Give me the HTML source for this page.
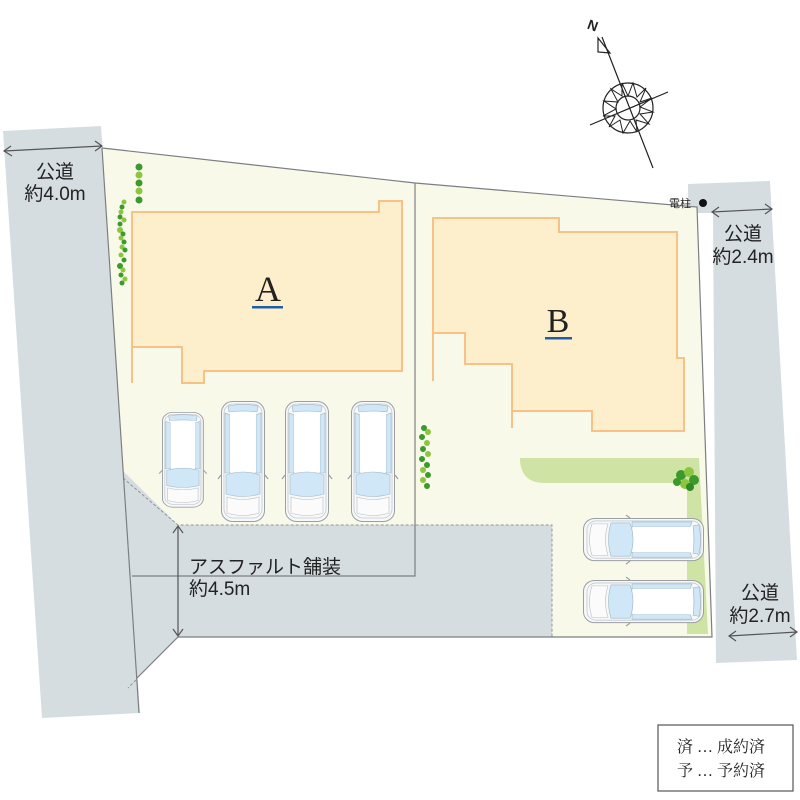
<!DOCTYPE html>
<html><head><meta charset="utf-8"><style>
html,body{margin:0;padding:0;background:#fff;}
svg{display:block;}
.t{font-family:"Liberation Sans","Noto Sans CJK JP",sans-serif;fill:#222;}
.s{font-family:"Liberation Serif","Noto Serif CJK SC",serif;fill:#222;}
</style></head><body>
<svg width="800" height="800" viewBox="0 0 800 800" xmlns="http://www.w3.org/2000/svg">
<defs>
<g id="car">
  <rect x="0.5" y="0.5" width="43" height="120" rx="11" fill="#f7f8f9" stroke="#9a9fa4" stroke-width="1"/>
  <rect x="3" y="3" width="38" height="114" rx="9" fill="none" stroke="#c4c8cc" stroke-width="0.8"/>
  <path d="M4,12 L4,72 L9,72 L9,14 Z" fill="#cfe7f6" stroke="#9fb4c4" stroke-width="0.6"/>
  <path d="M40,12 L40,72 L35,72 L35,14 Z" fill="#cfe7f6" stroke="#9fb4c4" stroke-width="0.6"/>
  <path d="M7,5 Q22,2 37,5 L36,11 Q22,9 8,11 Z" fill="#cfe7f6" stroke="#9fb4c4" stroke-width="0.6"/>
  <rect x="9" y="11" width="26" height="60" fill="#fff"/>
  <path d="M5,74 Q22,68 39,74 L39,93 Q22,98 5,93 Z" fill="#cfe7f6" stroke="#9fb4c4" stroke-width="0.6"/>
  <path d="M6,96 Q22,101 38,96 L38,112 Q22,117 6,112 Z" fill="#fbfbfb" stroke="#b9bdc1" stroke-width="0.6"/>
  <path d="M0,74 L-3,78 M44,74 L47,78" stroke="#9a9fa4" stroke-width="1.2"/>
</g>
</defs>

<polygon points="3,131 101,126 140,713 42,718" fill="#d6dde1"/>
<polygon points="688,184 770,181 797,660 716,663 713,213 688,213" fill="#d6dde1"/>

<polygon points="102,148 415,183 697,207 712,637 178,637 136,680 102,148" fill="#f9f9ea"/>
<polygon points="122,470 178,525 552,525 552,637 178,637 136,680" fill="#d6dde1"/>
<polyline points="123,478 178,525 552,525 552,637" fill="none" stroke="#8f969a" stroke-width="1" stroke-dasharray="3,2"/>
<line x1="136" y1="680" x2="128" y2="688" stroke="#8f969a" stroke-width="1" stroke-dasharray="3,2"/>

<polyline points="102,148 415,183 697,207 712,637 178,637 137,678" fill="none" stroke="#7b7f82" stroke-width="1.2"/>
<line x1="102" y1="148" x2="139" y2="713" stroke="#7b7f82" stroke-width="1.2"/>
<polyline points="415,183 415,576 132,576" fill="none" stroke="#7b7f82" stroke-width="1.2"/>

<path d="M520,458 L699,458 L708,634 L687,634 L687,483 L545,483 Q520,483 520,458 Z" fill="#cfe3a4"/>

<polygon points="132,212 379,212 379,201 402,201 402,371 204,371 204,383 182,383 182,347 132,347" fill="#fdefcc"/>
<path d="M132,383 L132,212 L379,212 L379,201 L402,201 L402,371 L204,371 L204,383 L182,383 L182,347 L132,347" fill="none" stroke="#f8c286" stroke-width="2"/>
<polygon points="433,218 559,218 559,232 677,232 677,358 684,358 684,431 592,431 592,411 512,411 512,364 465,364 465,333 433,333" fill="#fdefcc"/>
<path d="M433,381 L433,218 L559,218 L559,232 L677,232 L677,358 L684,358 L684,431 L592,431 L592,411 L512,411 L512,428 M433,333 L465,333 L465,364 L512,364 L512,411" fill="none" stroke="#f8c286" stroke-width="2"/>

<text x="268" y="301" class="s" font-size="36" text-anchor="middle">A</text>
<rect x="252" y="306" width="31" height="2.5" fill="#1f5fa8"/>
<text x="558" y="332" class="s" font-size="34" text-anchor="middle">B</text>
<rect x="545" y="337" width="27" height="2.5" fill="#1f5fa8"/>

<use href="#car" transform="translate(162,412) scale(0.95,0.79)"/>
<use href="#car" transform="translate(221,401)"/>
<use href="#car" transform="translate(285,401)"/>
<use href="#car" transform="translate(351,401)"/>
<use href="#car" transform="translate(704,518) rotate(90) scale(0.98,1)"/>
<use href="#car" transform="translate(704,580) rotate(90) scale(0.98,1)"/>

<g fill="#3a9a2c">
<circle cx="139" cy="167" r="3.5"/><circle cx="139" cy="175" r="3.5" fill="#8cc63f"/><circle cx="139" cy="183" r="3.5"/><circle cx="139" cy="191" r="3.5" fill="#8cc63f"/><circle cx="139" cy="200" r="3.5"/>
<circle cx="124" cy="202" r="2.5" fill="#8cc63f"/><circle cx="122" cy="207" r="2.5"/><circle cx="121" cy="212" r="2.5" fill="#8cc63f"/><circle cx="120" cy="217" r="2.5"/><circle cx="124" cy="220" r="2.5" fill="#8cc63f"/><circle cx="120" cy="224" r="2.5"/><circle cx="120" cy="230" r="3" fill="#8cc63f"/><circle cx="123" cy="234" r="2.5"/><circle cx="121" cy="238" r="2.5" fill="#8cc63f"/><circle cx="124" cy="242" r="2.5"/><circle cx="122" cy="247" r="2.5" fill="#8cc63f"/><circle cx="125" cy="250" r="2.5"/><circle cx="121" cy="255" r="2.5" fill="#8cc63f"/><circle cx="124" cy="260" r="2.5"/><circle cx="120" cy="266" r="3"/><circle cx="123" cy="270" r="2.5" fill="#8cc63f"/><circle cx="121" cy="275" r="2.5"/><circle cx="125" cy="279" r="2.5" fill="#8cc63f"/><circle cx="122" cy="283" r="2.5"/>
<circle cx="424" cy="428" r="3"/><circle cx="428" cy="432" r="3" fill="#8cc63f"/><circle cx="422" cy="437" r="3"/><circle cx="427" cy="443" r="3" fill="#8cc63f"/><circle cx="423" cy="449" r="3"/><circle cx="428" cy="454" r="3" fill="#8cc63f"/><circle cx="422" cy="459" r="3"/><circle cx="427" cy="465" r="3"/><circle cx="423" cy="470" r="3" fill="#8cc63f"/><circle cx="428" cy="475" r="3"/><circle cx="423" cy="480" r="3" fill="#8cc63f"/><circle cx="427" cy="486" r="3"/>
<circle cx="681" cy="475" r="5"/><circle cx="689" cy="472" r="5" fill="#8cc63f"/><circle cx="694" cy="480" r="5"/><circle cx="685" cy="484" r="5" fill="#8cc63f"/><circle cx="677" cy="482" r="4"/><circle cx="690" cy="487" r="4" fill="#2e8a22"/>
</g>

<g stroke="#222" fill="none" stroke-width="1.2">
<line x1="602" y1="37" x2="653" y2="168"/>
<line x1="590" y1="125" x2="668" y2="92"/>
<circle cx="628" cy="108" r="25"/>
<circle cx="628" cy="108" r="12"/>
<path d="M598,38 L598,52 L610,53 Z" />
<path d="M622,83 L628,96 L633,83 L637,97 L646,88 L640,102 L652,98 L640,107 L653,112 L640,114 L649,124 L636,120 L637,132 L630,121 L623,133 L620,120 L609,127 L615,116 L603,116 L616,109 L604,101 L618,102 L611,89 L622,96 Z" stroke-width="1"/>
</g>
<text x="588" y="31" class="t" font-size="14" font-weight="bold" transform="rotate(20 595 25)">N</text>

<g stroke="#555" stroke-width="1.2" fill="none">
<line x1="4" y1="151" x2="102" y2="146"/><path d="M11,146 L4,151 L12,156 M95,141 L102,146 L95,151"/>
<line x1="712" y1="212" x2="772" y2="209"/><path d="M719,207 L712,212 L719,217 M765,204 L772,209 L765,214"/>
<line x1="729" y1="636" x2="797" y2="632"/><path d="M736,631 L729,636 L736,641 M790,627 L797,632 L790,637"/>
<line x1="178" y1="526" x2="178" y2="636"/><path d="M173,533 L178,526 L183,533 M173,629 L178,636 L183,629"/>
</g>

<g class="t" font-size="19">
<text x="55" y="178" text-anchor="middle">公道</text>
<text x="55" y="200" text-anchor="middle">約4.0m</text>
<text x="743" y="240" text-anchor="middle">公道</text>
<text x="743" y="263" text-anchor="middle">約2.4m</text>
<text x="760" y="599" text-anchor="middle">公道</text>
<text x="760" y="622" text-anchor="middle">約2.7m</text>
<text x="189" y="573">アスファルト舗装</text>
<text x="189" y="595">約4.5m</text>
</g>
<text x="669" y="207" class="t" font-size="11">電柱</text>
<circle cx="703" cy="203" r="4" fill="#111"/>

<rect x="658" y="725" width="135" height="66" fill="#fff" stroke="#555" stroke-width="1.2"/>
<text x="677" y="752" class="s" font-size="16">済 … 成約済</text>
<text x="677" y="776" class="s" font-size="16">予 … 予約済</text>
</svg>
</body></html>
